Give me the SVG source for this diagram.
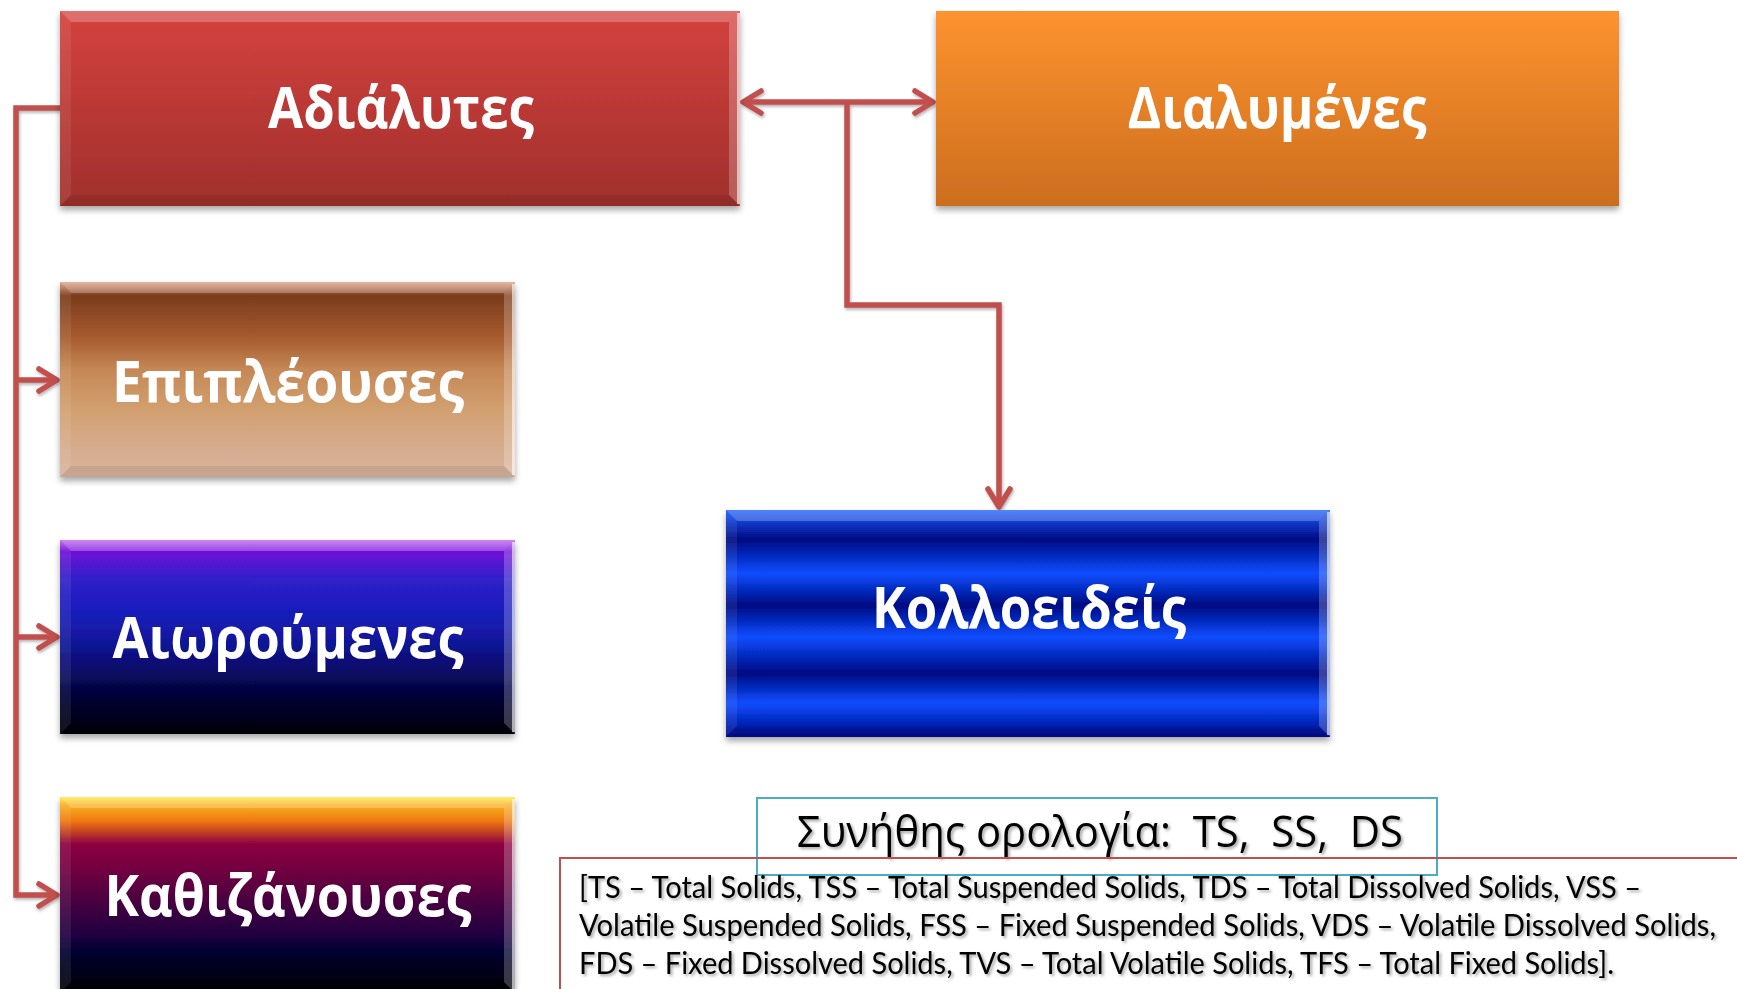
<svg xmlns="http://www.w3.org/2000/svg" width="1737" height="989" viewBox="0 0 1737 989">
<style>
.lbl{font-family:"Open Sans","Noto Sans","DejaVu Sans",sans-serif;font-weight:700;font-size:57px;fill:#fff;text-anchor:middle}
.conn{fill:none;stroke:#C0504D;stroke-width:5.5;stroke-linejoin:miter}
.bt{fill:#fff;opacity:.24}
.bl{fill:#fff;opacity:.08}
.br{fill:#fff;opacity:.22}
.bb{fill:#000;opacity:.08}
.edge{fill:#fff;opacity:.6}
.note{font-family:"Open Sans","Noto Sans","DejaVu Sans",sans-serif;font-size:44px;fill:#000}
.leg{font-family:Lato,"Open Sans","Noto Sans",sans-serif;font-size:30px;fill:#000}
</style>
<defs>
<linearGradient id="gRed" x1="0" y1="0" x2="0" y2="1"><stop offset="0" stop-color="#D4423F"/><stop offset="1" stop-color="#A02F2C"/></linearGradient>
<linearGradient id="gOra" x1="0" y1="0" x2="0" y2="1"><stop offset="0" stop-color="#FD9330"/><stop offset="1" stop-color="#CC6D1E"/></linearGradient>
<linearGradient id="gBrn" x1="0" y1="0" x2="0" y2="1"><stop offset="0" stop-color="#E0A080"/><stop offset="0.07" stop-color="#7A3C1C"/><stop offset="0.28" stop-color="#A65A2E"/><stop offset="0.45" stop-color="#C58856"/><stop offset="0.66" stop-color="#D2A070"/><stop offset="0.85" stop-color="#D6AC8E"/><stop offset="1" stop-color="#D9B4A0"/></linearGradient>
<linearGradient id="gVio" x1="0" y1="0" x2="0" y2="1"><stop offset="0" stop-color="#C060F0"/><stop offset="0.06" stop-color="#7010D8"/><stop offset="0.2" stop-color="#3020C8"/><stop offset="0.35" stop-color="#1A1EBE"/><stop offset="0.5" stop-color="#1218A0"/><stop offset="0.65" stop-color="#0A0C70"/><stop offset="0.8" stop-color="#030338"/><stop offset="1" stop-color="#000008"/></linearGradient>
<linearGradient id="gSun" x1="0" y1="0" x2="0" y2="1"><stop offset="0" stop-color="#FFE840"/><stop offset="0.04" stop-color="#F8B020"/><stop offset="0.12" stop-color="#F07A10"/><stop offset="0.19" stop-color="#B83428"/><stop offset="0.24" stop-color="#8C0040"/><stop offset="0.38" stop-color="#700040"/><stop offset="0.58" stop-color="#3C0040"/><stop offset="0.7" stop-color="#200040"/><stop offset="0.79" stop-color="#000030"/><stop offset="0.93" stop-color="#000010"/><stop offset="1" stop-color="#000000"/></linearGradient>
<linearGradient id="gBlu" x1="0" y1="0" x2="0" y2="1"><stop offset="0" stop-color="#1A5CFF"/><stop offset="0.13" stop-color="#000A82"/><stop offset="0.28" stop-color="#0A4DFF"/><stop offset="0.42" stop-color="#000A82"/><stop offset="0.56" stop-color="#0A4DFF"/><stop offset="0.72" stop-color="#000A82"/><stop offset="0.85" stop-color="#0A4DFF"/><stop offset="1" stop-color="#00098A"/></linearGradient>
<filter id="sh" x="-5%" y="-5%" width="110%" height="120%"><feDropShadow dx="0" dy="4" stdDeviation="3" flood-color="#000" flood-opacity="0.35"/></filter>
<filter id="lsh" x="-5%" y="-5%" width="110%" height="110%"><feDropShadow dx="1" dy="2" stdDeviation="1.5" flood-color="#000" flood-opacity="0.3"/></filter>
<filter id="tsh" x="-5%" y="-30%" width="110%" height="170%"><feDropShadow dx="2" dy="2" stdDeviation="1.5" flood-color="#000" flood-opacity="0.35"/></filter>
<marker id="ah" markerUnits="userSpaceOnUse" markerWidth="40" markerHeight="40" viewBox="-30 -20 40 40" refX="0" refY="0" orient="auto-start-reverse" overflow="visible"><path d="M-18 -11 L0 0 L-18 11" fill="none" stroke="#C0504D" stroke-width="5.5" stroke-linecap="round" stroke-linejoin="round"/></marker>
</defs>
<rect width="1737" height="989" fill="#fff"/>

<g id="connectors" filter="url(#lsh)">
<path class="conn" d="M60 108 H16 V895 H57" marker-end="url(#ah)"/>
<path class="conn" d="M16 380 H57" marker-end="url(#ah)"/>
<path class="conn" d="M16 637 H57" marker-end="url(#ah)"/>
<path class="conn" d="M743 102 H933" marker-start="url(#ah)" marker-end="url(#ah)"/>
<path class="conn" d="M847 102 V305 H999 V507" marker-end="url(#ah)"/>
</g>

<g id="node-adialytes">
<rect x="60" y="11" width="680" height="195" fill="url(#gRed)" filter="url(#sh)"/>
<polygon class="bt" points="60,11 740,11 729,22 71,22"/>
<polygon class="bl" points="60,11 71,22 71,195 60,206"/>
<polygon class="br" points="740,11 740,206 729,195 729,22"/>
<polygon class="bb" points="60,206 71,195 729,195 740,206"/>
<rect class="edge" x="737" y="13" width="3" height="191"/>
<text class="lbl" x="401" y="128" textLength="266" lengthAdjust="spacingAndGlyphs">Αδιάλυτες</text>
</g>

<g id="node-dialymenes">
<rect x="936" y="11" width="683" height="195" fill="url(#gOra)" filter="url(#sh)"/>
<text class="lbl" x="1277" y="128" textLength="299" lengthAdjust="spacingAndGlyphs">Διαλυμένες</text>
</g>

<g id="node-epipleouses">
<rect x="60" y="282" width="455" height="195" fill="url(#gBrn)" filter="url(#sh)"/>
<polygon class="bt" points="60,282 515,282 504,293 71,293"/>
<polygon class="bl" points="60,282 71,293 71,466 60,477"/>
<polygon class="br" points="515,282 515,477 504,466 504,293"/>
<polygon class="bb" points="60,477 71,466 504,466 515,477"/>
<rect class="edge" x="512" y="284" width="3" height="191"/>
<text class="lbl" x="288" y="402" textLength="352" lengthAdjust="spacingAndGlyphs">Επιπλέουσες</text>
</g>

<g id="node-aiwroumenes">
<rect x="60" y="540" width="455" height="194" fill="url(#gVio)" filter="url(#sh)"/>
<polygon class="bt" points="60,540 515,540 504,551 71,551"/>
<polygon class="bl" points="60,540 71,551 71,723 60,734"/>
<polygon class="br" points="515,540 515,734 504,723 504,551"/>
<polygon class="bb" points="60,734 71,723 504,723 515,734"/>
<rect class="edge" x="512" y="542" width="3" height="190"/>
<text class="lbl" x="288" y="658" textLength="351" lengthAdjust="spacingAndGlyphs">Αιωρούμενες</text>
</g>

<g id="node-kathizanouses">
<rect x="60" y="797" width="455" height="196" fill="url(#gSun)" filter="url(#sh)"/>
<polygon class="bt" points="60,797 515,797 504,808 71,808"/>
<polygon class="bl" points="60,797 71,808 71,982 60,993"/>
<polygon class="br" points="515,797 515,993 504,982 504,808"/>
<rect class="edge" x="512" y="799" width="3" height="192"/>
<text class="lbl" x="288" y="916" textLength="367" lengthAdjust="spacingAndGlyphs">Καθιζάνουσες</text>
</g>

<g id="node-kolloeideis">
<rect x="726" y="510" width="604" height="227" fill="url(#gBlu)" filter="url(#sh)"/>
<polygon class="bt" points="726,510 1330,510 1319,521 737,521"/>
<polygon class="bl" points="726,510 737,521 737,726 726,737"/>
<polygon class="br" points="1330,510 1330,737 1319,726 1319,521"/>
<polygon class="bb" points="726,737 737,726 1319,726 1330,737"/>
<rect class="edge" x="1327" y="512" width="3" height="223"/>
<text class="lbl" x="1029" y="628" textLength="314" lengthAdjust="spacingAndGlyphs">Κολλοειδείς</text>
</g>

<g id="note-terminology">
<rect x="757" y="798" width="680" height="77" fill="none" stroke="#4BACC6" stroke-width="2"/>
<text class="note" x="797" y="847" textLength="606" lengthAdjust="spacingAndGlyphs" xml:space="preserve" filter="url(#tsh)">Συνήθης ορολογία:  TS,  SS,  DS</text>
</g>

<g id="note-legend">
<rect x="560" y="858" width="1200" height="200" fill="none" stroke="#C0504D" stroke-width="2"/>
<g filter="url(#tsh)">
<text class="leg" x="579" y="898" textLength="1062" lengthAdjust="spacingAndGlyphs">[TS – Total Solids, TSS – Total Suspended Solids, TDS – Total Dissolved Solids, VSS –</text>
<text class="leg" x="579" y="936" textLength="1137" lengthAdjust="spacingAndGlyphs">Volatile Suspended Solids, FSS – Fixed Suspended Solids, VDS – Volatile Dissolved Solids,</text>
<text class="leg" x="579" y="974" textLength="1035" lengthAdjust="spacingAndGlyphs">FDS – Fixed Dissolved Solids, TVS – Total Volatile Solids, TFS – Total Fixed Solids].</text>
</g>
</g>
</svg>
